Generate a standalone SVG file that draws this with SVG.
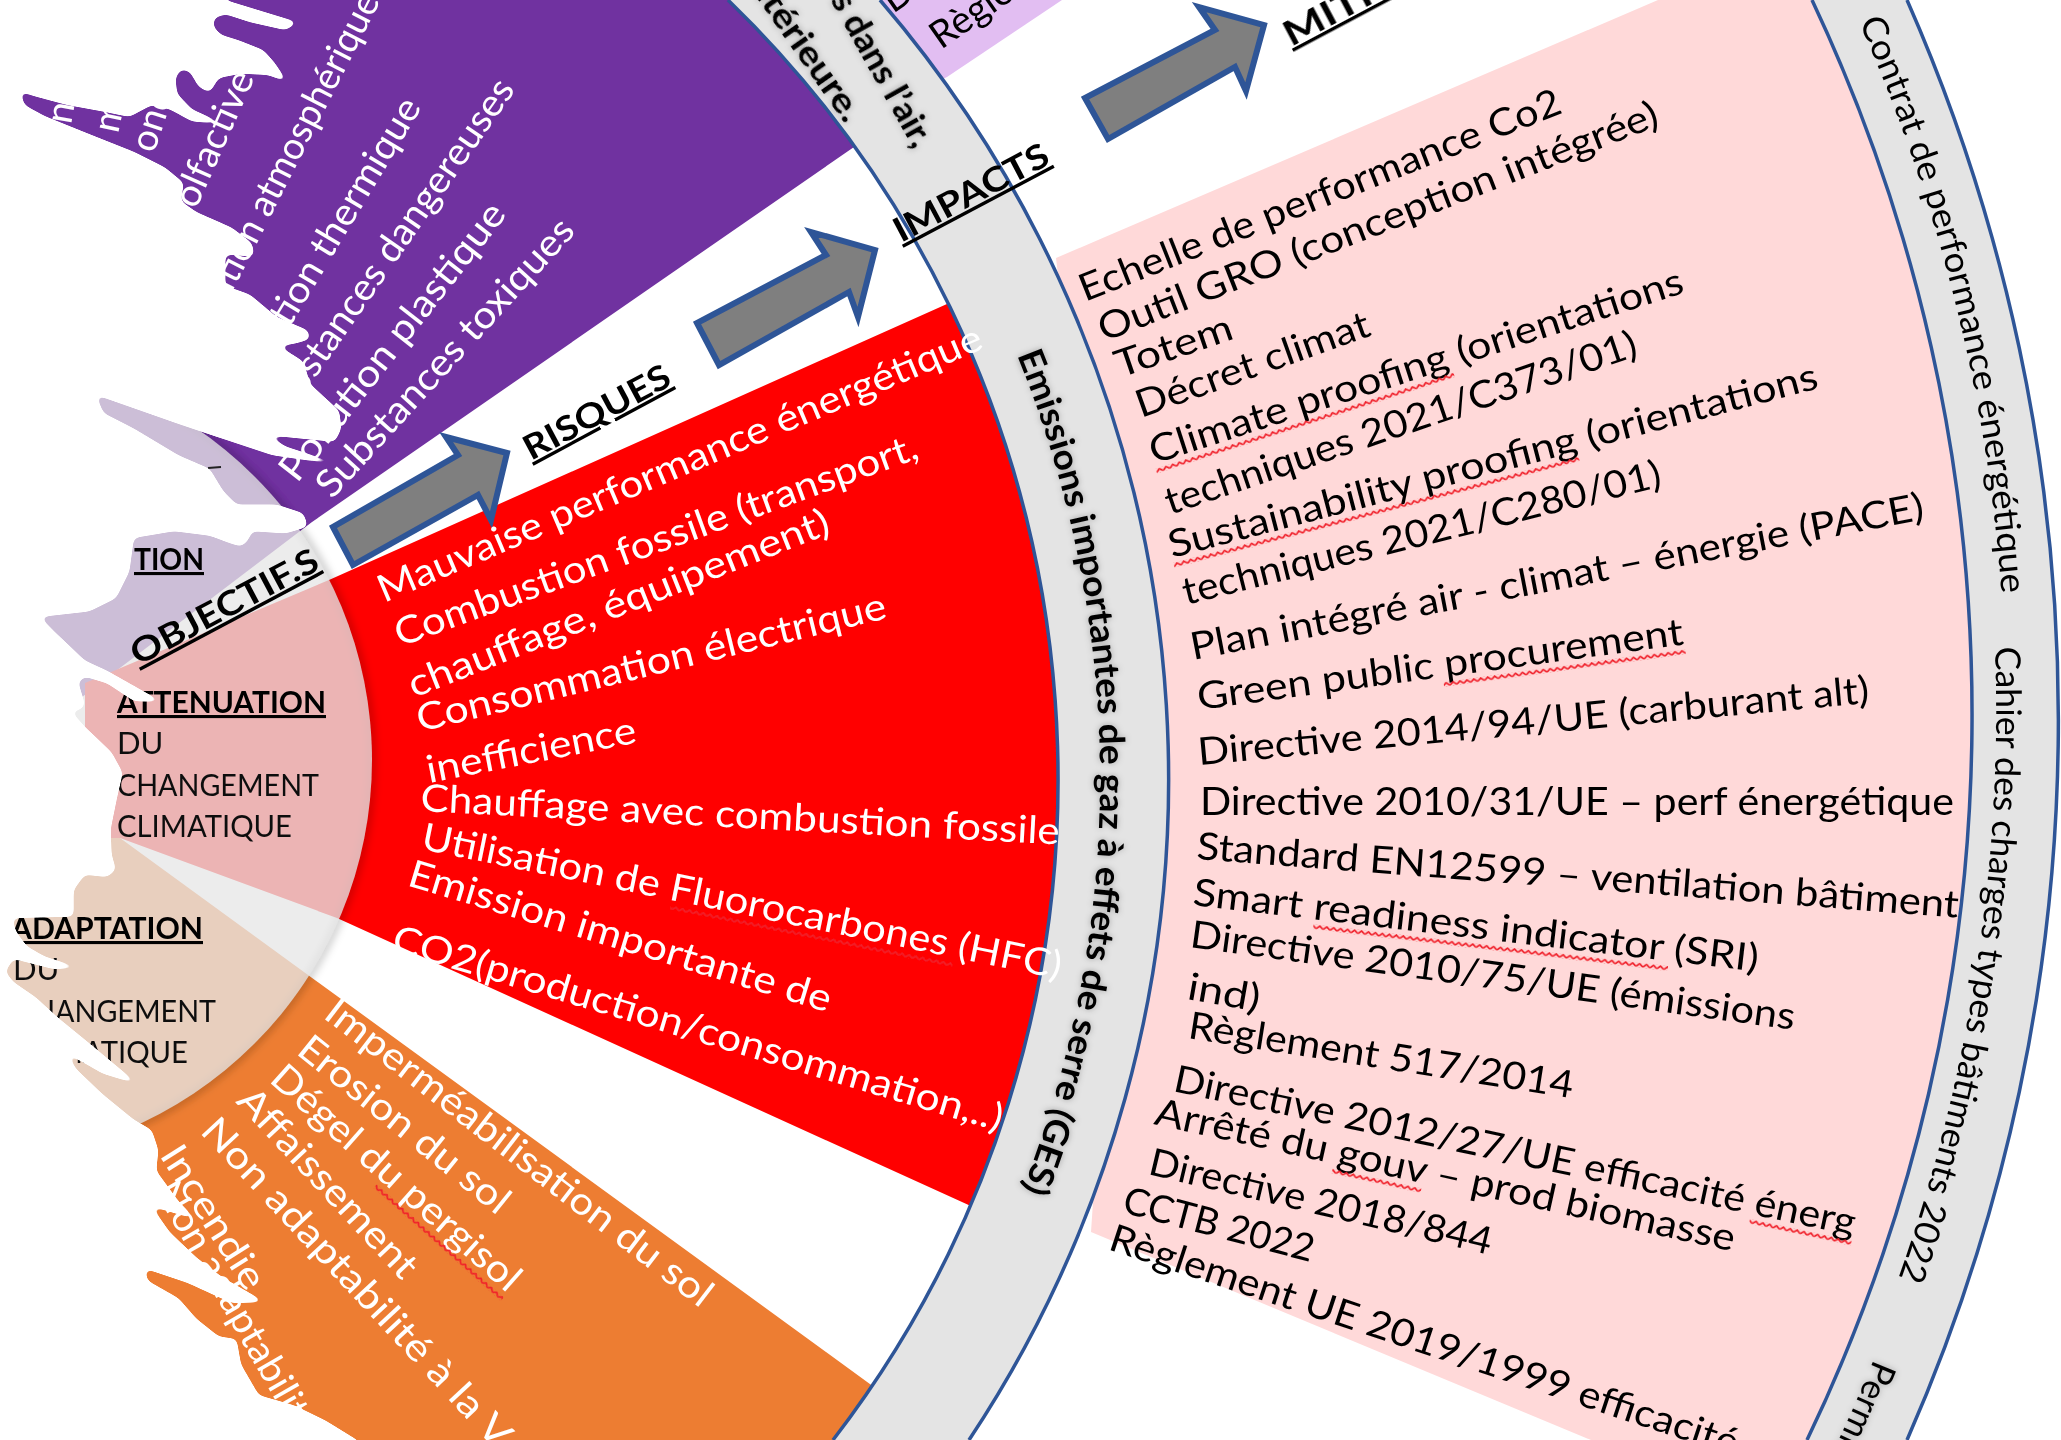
<svg xmlns="http://www.w3.org/2000/svg" width="2061" height="1440" viewBox="0 0 2061 1440">
<style>
text{font-family:Lato,"Open Sans","Liberation Sans",sans-serif}
.w{fill:#fff;font-size:38px}
.k{fill:#000;font-size:38px}
.c{fill:#111;font-size:31px}
.b{fill:#000;font-size:34px;font-weight:700;text-decoration:underline}
.h{fill:#000;font-size:31px;font-weight:700;text-decoration:underline}
.r1{fill:#000;font-size:35px;font-weight:700;filter:url(#glow)}
.r2{fill:#000;font-size:35px}
.arrow{fill:#7f7f7f;stroke:#2f5597;stroke-width:6;stroke-linejoin:miter}
.edge{fill:none;stroke:#2f5597;stroke-width:3.5}
.wave{fill:url(#wave)}
</style>
<defs>
<filter id="soft" x="0" y="0" width="2061" height="1440" filterUnits="userSpaceOnUse"><feGaussianBlur stdDeviation="0.6"/></filter>
<filter id="glow" x="-10%" y="-10%" width="120%" height="120%"><feDropShadow dx="0" dy="0" stdDeviation="3" flood-color="#000" flood-opacity=".3"/></filter>
<filter id="sh" x="-10%" y="-10%" width="120%" height="120%"><feGaussianBlur stdDeviation="4"/></filter>
<filter id="round" x="-100" y="-100" width="2300" height="1700" filterUnits="userSpaceOnUse"><feGaussianBlur stdDeviation="3"/><feComponentTransfer><feFuncA type="linear" slope="12" intercept="-5.5"/></feComponentTransfer></filter>
<pattern id="wave" width="7" height="5" patternUnits="userSpaceOnUse"><path d="M0 4 L3.5 1 L7 4" fill="none" stroke="#f0202a" stroke-width="1.7"/></pattern>
<path id="p1" d="M1017 355 A1126 1126 0 0 1 1018 1201"/>
<path id="p2" d="M1859 22 A1710 1710 0 0 1 2002 601"/>
<path id="p3" d="M1995 647 A1700 1700 0 0 1 1896 1285"/>
<path id="p4" d="M1874 1359 A1704 1704 0 0 1 1772 1567"/>
</defs>
<rect width="2061" height="1440" fill="#fff"/>
<g id="picture" filter="url(#soft)">
<g id="sectors">
<path id="s-purple" fill="#7030a0" d="M0 0L760 0L880 120L854 147L312 522L112 674L0 760Z"/>
<path id="s-red" fill="#f00" d="M985 287L329 580L85 683L85 838L120 838L337 918L973 1207L1020 1228L1100 800Z"/>
<path id="s-orange" fill="#ed7d31" d="M120 838L874 1387L950 1440L0 1440L0 838Z"/>
<path id="s-lavender" fill="#e2bef2" d="M860 0L1062 0L947 77L900 100Z"/>
<path id="s-pink" fill="#ffd9d9" d="M1056 258L1658 0L1812 0A1676 1676 0 0 1 1807 1440L1591 1440L1091 1232L1120 800Z"/>
</g>
<g id="hub">
<circle cx="-29" cy="760" r="401" fill="none" stroke="#000" stroke-opacity=".3" stroke-width="5" filter="url(#sh)"/>
<circle cx="-29" cy="760" r="401" fill="#e7e7e7" fill-opacity=".78"/>
</g>
<g id="ring-impacts">
<path fill="#e4e4e4" d="M880 0A1195 1195 0 0 1 969 1440L833 1440A1084 1084 0 0 0 728 0Z"/>
<path class="edge" d="M880 0A1195 1195 0 0 1 969 1440"/>
<path class="edge" d="M728 0A1084 1084 0 0 1 833 1440"/>
</g>
<g id="ring-mitigation">
<path fill="#e4e4e4" d="M1907 0A1788 1788 0 0 1 1907 1440L1807 1440A1676 1676 0 0 0 1812 0Z"/>
<path class="edge" d="M1907 0A1788 1788 0 0 1 1907 1440"/>
<path class="edge" d="M1812 0A1676 1676 0 0 1 1807 1440"/>
</g>
<g id="connectors">
<path class="arrow" d="M333 527L353 565L478 495L491 520L507 453L446 437L458 455Z"/>
<path class="arrow" d="M697 323L719 365L849 292L858 317L875 250L811 232L826 255Z"/>
<path class="arrow" d="M1085 98L1108 139L1235 67L1246 91L1264 25L1199 7L1215 30Z"/>
</g>
<g id="purple-texts">
<text class="w" textLength="363" lengthAdjust="spacingAndGlyphs" transform="translate(332 500) rotate(-47.6)">Substances toxiques</text>
<text class="w" textLength="342" lengthAdjust="spacingAndGlyphs" transform="translate(297 484) rotate(-52)">Pollution plastique</text>
<text class="w" textLength="417" lengthAdjust="spacingAndGlyphs" transform="translate(278 432) rotate(-55.2)">Substances dangereuses</text>
<text class="w" textLength="344" lengthAdjust="spacingAndGlyphs" transform="translate(245 402) rotate(-59)">Pollution thermique</text>
<text class="w" textLength="400" lengthAdjust="spacingAndGlyphs" transform="translate(199 357) rotate(-63)">Pollution atmosphérique</text>
<text class="w" textLength="145" lengthAdjust="spacingAndGlyphs" transform="translate(196 210) rotate(-66)">olfactive</text>
<text class="w" transform="translate(154 154) rotate(-72)">ono</text>
<text class="w" transform="translate(118 134) rotate(-78)">m</text>
<text class="w" transform="translate(71 125) rotate(-80)">n</text>
</g>
<g id="red-texts">
<text class="w" textLength="653" lengthAdjust="spacingAndGlyphs" transform="translate(384 603) rotate(-23)">Mauvaise performance énergétique</text>
<text class="w" textLength="554" lengthAdjust="spacingAndGlyphs" transform="translate(400 647) rotate(-20)">Combustion fossile (transport,</text>
<text class="w" textLength="450" lengthAdjust="spacingAndGlyphs" transform="translate(414 698) rotate(-21.6)">chauffage, équipement)</text>
<text class="w" textLength="482" lengthAdjust="spacingAndGlyphs" transform="translate(420 732) rotate(-13.7)">Consommation électrique</text>
<text class="w" textLength="213" lengthAdjust="spacingAndGlyphs" transform="translate(429 783) rotate(-11)">inefficience</text>
<text class="w" textLength="640" lengthAdjust="spacingAndGlyphs" transform="translate(420 811) rotate(3)">Chauffage avec combustion fossile</text>
<g transform="translate(420 849) rotate(11.5)"><text class="w" textLength="652" lengthAdjust="spacingAndGlyphs">Utilisation de Fluorocarbones (HFC)</text><rect class="wave" x="257" y="5" width="288" height="5"/></g>
<text class="w" textLength="440" lengthAdjust="spacingAndGlyphs" transform="translate(406 885) rotate(16.8)">Emission importante de</text>
<text class="w" textLength="635" lengthAdjust="spacingAndGlyphs" transform="translate(390 950) rotate(16.6)">CO2(production/consommation,..)</text>
</g>
<g id="orange-texts">
<text class="w" textLength="478" lengthAdjust="spacingAndGlyphs" transform="translate(322 1017) rotate(37.6)">Imperméabilisation du sol</text>
<text class="w" textLength="260" lengthAdjust="spacingAndGlyphs" transform="translate(295 1053) rotate(38.8)">Erosion du sol</text>
<g transform="translate(268 1081) rotate(41.6)"><text class="w" textLength="320" lengthAdjust="spacingAndGlyphs">Dégel du pergisol</text><rect class="wave" x="150" y="5" width="170" height="5"/></g>
<text class="w" textLength="245" lengthAdjust="spacingAndGlyphs" transform="translate(235 1102) rotate(47)">Affaissement</text>
<text class="w" textLength="435" lengthAdjust="spacingAndGlyphs" transform="translate(199 1132) rotate(47)">Non adaptabilité à la V</text>
<text class="w" textLength="163" lengthAdjust="spacingAndGlyphs" transform="translate(159 1155) rotate(57.8)">Incendie</text>
<text class="w" textLength="290" lengthAdjust="spacingAndGlyphs" transform="translate(154 1190) rotate(60)">Non adaptabilité</text>
</g>
<g id="hub-texts">
<text class="h" x="117" y="713" textLength="209" lengthAdjust="spacingAndGlyphs">ATTENUATION</text>
<text class="c" x="117" y="754">DU</text>
<text class="c" x="117" y="796" textLength="202" lengthAdjust="spacingAndGlyphs">CHANGEMENT</text>
<text class="c" x="117" y="837" textLength="175" lengthAdjust="spacingAndGlyphs">CLIMATIQUE</text>
<text class="h" x="11" y="939" textLength="192" lengthAdjust="spacingAndGlyphs">ADAPTATION</text>
<text class="c" x="13" y="980">DU</text>
<text class="c" x="14" y="1022" textLength="202" lengthAdjust="spacingAndGlyphs">CHANGEMENT</text>
<text class="c" x="13" y="1063" textLength="175" lengthAdjust="spacingAndGlyphs">CLIMATIQUE</text>
<text class="h" x="134" y="570" textLength="70" lengthAdjust="spacingAndGlyphs">TION</text>
<path d="M208 468L221 467" stroke="#222" stroke-width="2"/>
</g>
<g id="titles">
<text class="b" textLength="208" lengthAdjust="spacingAndGlyphs" transform="translate(138 666) rotate(-28)">OBJECTIF.S</text>
<text class="b" textLength="162" lengthAdjust="spacingAndGlyphs" transform="translate(531 461) rotate(-28.3)">RISQUES</text>
<text class="b" textLength="171" lengthAdjust="spacingAndGlyphs" transform="translate(901 243) rotate(-27.9)">IMPACTS</text>
<text class="b" textLength="265" lengthAdjust="spacingAndGlyphs" transform="translate(1291 47) rotate(-28)">MITIGATION</text>
</g>
<g id="lavender-texts">
<text class="k" transform="translate(941 50) rotate(-35)">Règlement</text>
<text class="k" transform="translate(893 14) rotate(-35)">Directive</text>
</g>
<g id="pink-texts">
<text class="k" textLength="515" lengthAdjust="spacingAndGlyphs" transform="translate(1085 302) rotate(-21.6)">Echelle de performance Co2</text>
<text class="k" textLength="598" lengthAdjust="spacingAndGlyphs" transform="translate(1104 342) rotate(-21.3)">Outil GRO (conception intégrée)</text>
<text class="k" textLength="122" lengthAdjust="spacingAndGlyphs" transform="translate(1120 378) rotate(-19)">Totem</text>
<text class="k" textLength="246" lengthAdjust="spacingAndGlyphs" transform="translate(1141 418) rotate(-19.7)">Décret climat</text>
<g transform="translate(1154 464) rotate(-17.9)"><text class="k" textLength="559" lengthAdjust="spacingAndGlyphs">Climate proofing (orientations</text><rect class="wave" y="5" width="313" height="5"/></g>
<text class="k" textLength="496" lengthAdjust="spacingAndGlyphs" transform="translate(1170 515) rotate(-18.8)">techniques 2021/C373/01)</text>
<g transform="translate(1172 558) rotate(-14.7)"><text class="k" textLength="670" lengthAdjust="spacingAndGlyphs">Sustainability proofing (orientations</text><rect class="wave" y="5" width="419" height="5"/></g>
<text class="k" textLength="492" lengthAdjust="spacingAndGlyphs" transform="translate(1186 605) rotate(-14)">techniques 2021/C280/01)</text>
<text class="k" textLength="746" lengthAdjust="spacingAndGlyphs" transform="translate(1193 660) rotate(-10.9)">Plan intégré air - climat – énergie (PACE)</text>
<g transform="translate(1199 710) rotate(-7.7)"><text class="k" textLength="490" lengthAdjust="spacingAndGlyphs">Green public procurement</text><rect class="wave" x="246" y="5" width="244" height="5"/></g>
<text class="k" textLength="674" lengthAdjust="spacingAndGlyphs" transform="translate(1199 765) rotate(-5.3)">Directive 2014/94/UE (carburant alt)</text>
<text class="k" textLength="754" lengthAdjust="spacingAndGlyphs" transform="translate(1200 815)">Directive 2010/31/UE – perf énergétique</text>
<text class="k" textLength="764" lengthAdjust="spacingAndGlyphs" transform="translate(1196 859) rotate(4.4)">Standard EN12599 – ventilation bâtiment</text>
<g transform="translate(1192 905) rotate(6.7)"><text class="k" textLength="569" lengthAdjust="spacingAndGlyphs">Smart readiness indicator (SRI)</text><rect class="wave" x="123" y="5" width="357" height="5"/></g>
<text class="k" textLength="610" lengthAdjust="spacingAndGlyphs" transform="translate(1189 947) rotate(7.8)">Directive 2010/75/UE (émissions</text>
<text class="k" textLength="73" lengthAdjust="spacingAndGlyphs" transform="translate(1186 999) rotate(10)">ind)</text>
<text class="k" textLength="389" lengthAdjust="spacingAndGlyphs" transform="translate(1187 1038) rotate(8.9)">Règlement 517/2014</text>
<g transform="translate(1172 1091) rotate(12)"><text class="k" textLength="696" lengthAdjust="spacingAndGlyphs">Directive 2012/27/UE efficacité énerg</text><rect class="wave" x="592" y="5" width="104" height="5"/></g>
<g transform="translate(1153 1124) rotate(12.4)"><text class="k" textLength="593" lengthAdjust="spacingAndGlyphs">Arrêté du gouv – prod biomasse</text><rect class="wave" x="185" y="5" width="91" height="5"/></g>
<text class="k" textLength="351" lengthAdjust="spacingAndGlyphs" transform="translate(1147 1174) rotate(13.3)">Directive 2018/844</text>
<text class="k" textLength="196" lengthAdjust="spacingAndGlyphs" transform="translate(1121 1212) rotate(14.8)">CCTB 2022</text>
<text class="k" textLength="660" lengthAdjust="spacingAndGlyphs" transform="translate(1107 1249) rotate(18.3)">Règlement UE 2019/1999 efficacité</text>
</g>
<g id="ring-texts">
<text class="r1"><textPath href="#p1" textLength="855" lengthAdjust="spacingAndGlyphs">Emissions importantes de gaz à effets de serre (GES)</textPath></text>
<text class="r1" textLength="172" lengthAdjust="spacingAndGlyphs" transform="translate(830 0) rotate(60.7)">s dans l’air,</text>
<text class="r1" textLength="180" lengthAdjust="spacingAndGlyphs" transform="translate(742 -23) rotate(55)">intérieure.</text>
<text class="r2"><textPath href="#p2" textLength="592" lengthAdjust="spacingAndGlyphs">Contrat de performance énergétique</textPath></text>
<text class="r2"><textPath href="#p3" textLength="642" lengthAdjust="spacingAndGlyphs">Cahier des charges types bâtiments 2022</textPath></text>
<text class="r2" style="filter:url(#glow)"><textPath href="#p4">Permis</textPath></text>
</g>
</g>
<g id="torn-edge" fill="#fff" filter="url(#round)">
<path transform="scale(.4464)" d="M-80 -80L505 -80L505 0L668 50L640 68L560 50L505 32L480 40L478 60L495 78L535 90L590 112L615 140L645 185L600 168L540 165L490 175L470 208L445 195L425 160L405 155L393 175L397 210L430 245L505 278L430 272L380 245L340 235L290 262L230 250L150 235L75 215L45 205L55 235L100 260L200 300L300 340L370 375L412 410L405 450L440 475L520 510L565 545L570 575L505 570L505 640L560 660L620 710L690 740L695 760L660 770L625 775L680 810L695 860L760 920L765 960L750 990L600 975L640 1000L780 1045L610 1020L400 950L215 885L232 925L300 960L400 1020L470 1050L500 1100L530 1130L620 1130L680 1150L690 1180L640 1195L565 1190L555 1212L540 1225L510 1215L470 1200L390 1190L300 1205L290 1280L260 1340L200 1370L90 1382L140 1433L-80 1433Z"/>
<path transform="translate(0 640) scale(.4464 .5102)" d="M-80 -10L130 -10L190 40L240 60L365 122L300 120L240 85L190 72L175 82L185 110L190 125L185 135L160 140L190 170L250 220L275 260L262 310L248 370L250 420L260 450L240 465L190 460L165 490L165 542L28 545L35 570L60 600L100 620L182 643L120 645L30 625L12 650L30 670L80 700L130 740L200 790L312 872L230 850L150 810L170 840L230 890L300 940L340 960L355 1000L350 1040L400 1100L440 1136L340 1110L380 1160L440 1210L500 1250L595 1298L520 1300L420 1260L325 1232L330 1255L400 1290L440 1330L490 1365L530 1370L540 1420L580 1480L660 1500L730 1530L800 1568L900 1660L-80 1660Z"/>
</g>
</svg>
